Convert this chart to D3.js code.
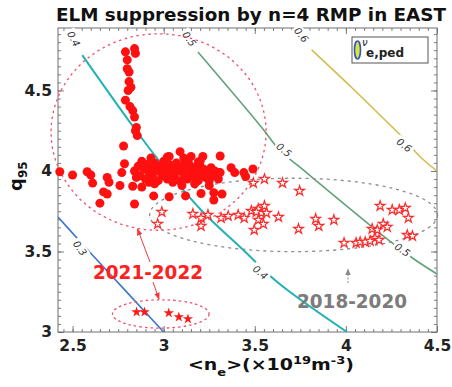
<!DOCTYPE html>
<html>
<head>
<meta charset="utf-8">
<script src="https://cdn.jsdelivr.net/npm/d3@7"></script>
<style>
  body { margin: 0; background: #fff; }
  svg { display: block; font-family: "DejaVu Sans", sans-serif; }
</style>
</head>
<body>
<svg id="chart" width="452" height="387"></svg>
<script>
// ELM suppression by n=4 RMP in EAST — q95 vs line-averaged density

// suppressed shots, filled circles (ne, q95)
const circlesNe = [
  2.79, 2.84, 2.845, 2.80, 2.80, 2.81, 2.81, 2.805, 2.82, 2.79, 2.815, 2.83, 2.84, 2.85, 2.845, 2.855,
  2.43, 2.50, 2.58, 2.60, 2.61, 2.69, 2.70, 2.67, 2.69, 2.65, 2.76, 2.77, 2.78, 2.785,
  2.83, 2.88, 2.84, 2.945, 3.03, 3.12, 3.205, 3.275, 3.32, 3.275,
  3.09, 3.215, 3.31, 3.02, 3.11, 3.19, 3.49, 3.37, 3.39, 3.44, 3.45, 3.30, 2.92,
  2.84, 2.86, 2.87, 2.89, 2.90, 2.91, 2.92, 2.93, 2.94, 2.95, 2.96, 2.97, 2.98, 2.99, 3.00, 3.01,
  3.02, 3.03, 3.04, 3.05, 3.06, 3.07, 3.08, 3.09, 3.10, 3.11, 3.12, 3.13, 3.14, 3.15, 3.16, 3.17,
  3.18, 3.19, 3.20, 3.21, 3.22, 3.23, 3.24, 3.25, 3.26, 3.27, 3.28, 3.30, 3.31,
  2.88, 2.95, 3.05, 3.12, 3.20, 3.25, 2.85, 3.00, 3.10, 3.17, 2.93, 3.03, 3.15
];
const circlesQ = [
  4.74, 4.76, 4.73, 4.69, 4.635, 4.615, 4.555, 4.50, 4.52, 4.44, 4.40, 4.375, 4.335, 4.27, 4.25, 4.22,
  3.995, 3.975, 3.995, 3.975, 3.925, 3.96, 3.93, 3.87, 3.857, 3.80, 3.91, 3.99, 4.155, 4.045,
  3.905, 3.90, 3.795, 3.845, 3.84, 3.845, 3.86, 3.865, 3.857, 3.82,
  4.12, 4.09, 4.093, 4.087, 4.08, 4.056, 4.012, 4.02, 3.99, 3.99, 3.965, 3.99, 3.93,
  4.00, 4.03, 3.97, 4.01, 3.95, 4.04, 3.99, 4.02, 3.96, 4.05, 4.00, 3.94, 4.03, 3.98, 4.06, 4.01,
  3.95, 4.04, 3.99, 4.02, 3.96, 4.05, 4.00, 3.94, 4.03, 3.98, 4.01, 3.95, 4.04, 3.99, 4.02, 3.96,
  4.00, 3.94, 4.03, 3.98, 4.01, 3.96, 3.99, 3.94, 4.02, 3.97, 4.00, 3.95, 3.99,
  4.06, 3.92, 3.93, 4.07, 4.06, 3.91, 3.96, 3.97, 3.91, 3.92, 4.08, 4.09, 4.09
];

// 2018-2020 campaign, open stars
const starsOldNe = [
  2.99, 2.967, 3.16, 3.205, 3.205, 3.243, 3.315, 3.354, 3.409, 3.442, 3.481, 3.492, 3.519, 3.536,
  3.553, 3.553, 3.564, 3.519, 3.547, 3.497, 3.652, 3.746, 3.63, 3.74, 3.834, 3.851, 3.934,
  4.188, 4.254, 4.293, 4.326, 4.343, 4.337, 4.365, 4.144, 4.172, 4.205, 4.227, 4.16, 4.182,
  3.99, 4.056, 4.078, 4.106, 4.133, 3.508
];
const starsOldQ = [
  3.745, 3.671, 3.733, 3.708, 3.658, 3.727, 3.708, 3.72, 3.727, 3.708, 3.752, 3.925, 3.764, 3.739,
  3.783, 3.95, 3.739, 3.696, 3.671, 3.634, 3.925, 3.876, 3.714, 3.64, 3.702, 3.658, 3.696,
  3.783, 3.758, 3.758, 3.77, 3.708, 3.602, 3.596, 3.64, 3.634, 3.671, 3.652, 3.584, 3.571,
  3.553, 3.553, 3.559, 3.559, 3.565, 3.745
];

// 2021-2022 low q95 shots, filled stars
const starsNewNe = [2.851, 2.895, 3.028, 3.083, 3.133];
const starsNewQ = [3.124, 3.124, 3.118, 3.093, 3.081];

// nu_e,ped contour lines
const contourLevels = ['0.3', '0.4', '0.5', '0.6'];
const contourColors = ['#3a78c8', '#22b2b6', '#62a27a', '#d2bc50'];
const contourNe = [
  [2.42, 2.535, 2.624, 3.0],
  [2.553, 2.834, 2.984, 3.205, 3.437, 3.63, 4.006],
  [3.188, 3.536, 3.635, 3.746, 4.254, 4.381, 4.5],
  [3.812, 4.03, 4.254, 4.298, 4.409, 4.5]
];
const contourQ = [
  [3.714, 3.57, 3.46, 3.0],
  [4.72, 4.273, 4.05, 3.758, 3.509, 3.304, 3.0],
  [4.739, 4.273, 4.13, 4.025, 3.553, 3.447, 3.36],
  [4.752, 4.52, 4.273, 4.224, 4.087, 4.0]
];
// contour labels: level, ne, q, angle
const labelText = ['0.4', '0.5', '0.6', '0.3', '0.4', '0.5', '0.5', '0.6'];
const labelNe = [2.505, 3.14, 3.755, 2.54, 3.53, 3.66, 4.31, 4.32];
const labelQ = [4.82, 4.82, 4.845, 3.52, 3.37, 4.13, 3.51, 4.16];
const labelAngle = [62, 55, 50, 55, 40, 40, 35, 38];

const xTicks = [2.5, 3, 3.5, 4, 4.5];
const yTicks = [3, 3.5, 4, 4.5];

const svg = d3.select('#chart');
const margin = { left: 58, right: 15, top: 28, bottom: 55 };
const W = 452, H = 387;

const x = d3.scaleLinear().domain([2.42, 4.5]).range([margin.left, W - margin.right]);
const y = d3.scaleLinear().domain([3, 4.888]).range([H - margin.bottom, margin.top]);

const defs = svg.append('defs');
defs.append('clipPath').attr('id', 'plotClip')
  .append('rect')
  .attr('x', x(2.42)).attr('y', y(4.888))
  .attr('width', x(4.5) - x(2.42)).attr('height', y(3) - y(4.888));

function arrowMarker(id, color) {
  defs.append('marker')
    .attr('id', id)
    .attr('viewBox', '0 0 10 10')
    .attr('refX', 9).attr('refY', 5)
    .attr('markerWidth', 7).attr('markerHeight', 7)
    .attr('orient', 'auto-start-reverse')
    .append('path')
    .attr('d', 'M0,1 L10,5 L0,9 z')
    .attr('fill', color);
}
arrowMarker('arrRed', '#f03a3a');
arrowMarker('arrGray', '#8a8a8a');

// minor ticks every 0.05, major every 0.5, inward on all four sides
const xMinor = d3.range(2.45, 4.5001, 0.05);
const yMinor = d3.range(3, 4.88, 0.05);
const frameColor = '#6f6f6f';

function tickAxis(axis, tr) {
  const g = svg.append('g').attr('transform', tr).call(axis);
  g.select('.domain').remove();
  g.selectAll('line').attr('stroke', frameColor).attr('stroke-width', 0.9);
  g.selectAll('text').remove();
  return g;
}
tickAxis(d3.axisBottom(x).tickValues(xMinor).tickSize(-3), `translate(0,${y(3)})`);
tickAxis(d3.axisBottom(x).tickValues(xTicks).tickSize(-6), `translate(0,${y(3)})`);
tickAxis(d3.axisTop(x).tickValues(xMinor).tickSize(-3), `translate(0,${y(4.888)})`);
tickAxis(d3.axisTop(x).tickValues(xTicks).tickSize(-6), `translate(0,${y(4.888)})`);
tickAxis(d3.axisLeft(y).tickValues(yMinor).tickSize(-3), `translate(${x(2.42)},0)`);
tickAxis(d3.axisLeft(y).tickValues(yTicks).tickSize(-6), `translate(${x(2.42)},0)`);
tickAxis(d3.axisRight(y).tickValues(yMinor).tickSize(-3), `translate(${x(4.5)},0)`);
tickAxis(d3.axisRight(y).tickValues(yTicks).tickSize(-6), `translate(${x(4.5)},0)`);

// tick labels
const xAxisLbl = svg.append('g')
  .attr('transform', `translate(0,${y(3)})`)
  .call(d3.axisBottom(x).tickValues(xTicks).tickSize(0).tickPadding(8).tickFormat(d3.format('')));
xAxisLbl.select('.domain').remove();
xAxisLbl.selectAll('text')
  .attr('font-family', '"DejaVu Sans", sans-serif')
  .attr('font-size', 15.5).attr('font-weight', 'bold').attr('fill', '#222');

const yAxisLbl = svg.append('g')
  .attr('transform', `translate(${x(2.42)},0)`)
  .call(d3.axisLeft(y).tickValues(yTicks).tickSize(0).tickPadding(6).tickFormat(d3.format('')));
yAxisLbl.select('.domain').remove();
yAxisLbl.selectAll('text')
  .attr('font-family', '"DejaVu Sans", sans-serif')
  .attr('font-size', 15.5).attr('font-weight', 'bold').attr('fill', '#222');

// frame
svg.append('rect')
  .attr('x', x(2.42)).attr('y', y(4.888))
  .attr('width', x(4.5) - x(2.42)).attr('height', y(3) - y(4.888))
  .attr('fill', 'none').attr('stroke', frameColor).attr('stroke-width', 1);

// contour lines
const plot = svg.append('g').attr('clip-path', 'url(#plotClip)');
const line = d3.line().x(d => x(d[0])).y(d => y(d[1])).curve(d3.curveCatmullRom);

contourLevels.forEach((lvl, i) => {
  const pts = contourNe[i].map((v, j) => [v, contourQ[i][j]]);
  plot.append('path')
    .datum(pts)
    .attr('d', line)
    .attr('fill', 'none')
    .attr('stroke', contourColors[i])
    .attr('stroke-width', i === 1 ? 2 : 1.6);
});

// white gaps behind contour labels, then label text
labelText.forEach((t, i) => {
  const g = svg.append('g')
    .attr('transform', `translate(${x(labelNe[i])},${y(labelQ[i])}) rotate(${labelAngle[i]})`);
  g.append('rect').attr('x', -10).attr('y', -6).attr('width', 20).attr('height', 12).attr('fill', '#fff');
  g.append('text')
    .attr('text-anchor', 'middle').attr('dy', '0.35em')
    .attr('font-family', '"DejaVu Sans", sans-serif')
    .attr('font-size', 10).attr('font-style', 'italic').attr('fill', '#333')
    .text(t);
});

// dashed ellipses
function dashedEllipse(cx, cy, rxData, ryData, color, dash) {
  svg.append('ellipse')
    .attr('cx', x(cx)).attr('cy', y(cy))
    .attr('rx', x(cx + rxData) - x(cx))
    .attr('ry', y(cy) - y(cy + ryData))
    .attr('fill', 'none')
    .attr('stroke', color)
    .attr('stroke-width', 1.3)
    .attr('stroke-dasharray', dash);
}
dashedEllipse(2.972, 4.242, 0.59, 0.61, '#f0506a', '2.5,3.5');
dashedEllipse(3.713, 3.727, 0.79, 0.228, '#8c8c8c', '3,4');
dashedEllipse(2.984, 3.112, 0.265, 0.088, '#f0506a', '2.5,3');

// filled circles
const circleData = circlesNe.map((v, i) => [v, circlesQ[i]]);
svg.append('g').selectAll('circle')
  .data(circleData)
  .join('circle')
  .attr('cx', d => x(d[0]))
  .attr('cy', d => y(d[1]))
  .attr('r', 4.5)
  .attr('fill', '#ff1010');

// open stars
const star = d3.symbol().type(d3.symbolStar);
const oldData = starsOldNe.map((v, i) => [v, starsOldQ[i]]);
svg.append('g').selectAll('path')
  .data(oldData)
  .join('path')
  .attr('transform', d => `translate(${x(d[0])},${y(d[1])})`)
  .attr('d', star.size(30)())
  .attr('fill', '#fff')
  .attr('stroke', '#ff2a2a')
  .attr('stroke-width', 1.2);

// filled stars
const newData = starsNewNe.map((v, i) => [v, starsNewQ[i]]);
svg.append('g').selectAll('path')
  .data(newData)
  .join('path')
  .attr('transform', d => `translate(${x(d[0])},${y(d[1])})`)
  .attr('d', star.size(34)())
  .attr('fill', '#ff1a1a');

// annotations
svg.append('line')
  .attr('x1', 150).attr('y1', 262).attr('x2', 137.5).attr('y2', 229)
  .attr('stroke', '#f03a3a').attr('stroke-width', 1).attr('marker-end', 'url(#arrRed)');
svg.append('line')
  .attr('x1', 153).attr('y1', 282).attr('x2', 159).attr('y2', 299)
  .attr('stroke', '#f03a3a').attr('stroke-width', 1).attr('marker-end', 'url(#arrRed)');
svg.append('line')
  .attr('x1', 348).attr('y1', 283).attr('x2', 348).attr('y2', 269)
  .attr('stroke', '#8a8a8a').attr('stroke-width', 1).attr('stroke-dasharray', '2,1.5')
  .attr('marker-end', 'url(#arrGray)');

svg.append('text')
  .attr('x', 148).attr('y', 278.5)
  .attr('text-anchor', 'middle')
  .attr('font-size', 19).attr('font-weight', 'bold').attr('fill', '#ff2020')
  .attr('textLength', 110).attr('lengthAdjust', 'spacingAndGlyphs')
  .text('2021-2022');
svg.append('text')
  .attr('x', 352).attr('y', 307.5)
  .attr('text-anchor', 'middle')
  .attr('font-size', 19).attr('font-weight', 'bold').attr('fill', '#7c7c7c')
  .attr('textLength', 110).attr('lengthAdjust', 'spacingAndGlyphs')
  .text('2018-2020');

// legend
const leg = svg.append('g');
leg.append('rect')
  .attr('x', 352).attr('y', 37).attr('width', 76).attr('height', 26)
  .attr('fill', '#fff').attr('stroke', '#555').attr('stroke-width', 1);
leg.append('ellipse')
  .attr('cx', 357.5).attr('cy', 50).attr('rx', 3).attr('ry', 9)
  .attr('fill', '#d6e83a').attr('stroke', '#3852c0').attr('stroke-width', 1.6);
const legText = leg.append('text').attr('x', 362).attr('y', 46).attr('fill', '#222');
legText.append('tspan').attr('font-size', 10).attr('font-style', 'italic').text('ν');
legText.append('tspan').attr('x', 366).attr('y', 56.5)
  .attr('font-size', 12).attr('font-weight', 'bold').text('e,ped');

// title
svg.append('text')
  .attr('x', 251).attr('y', 21)
  .attr('text-anchor', 'middle')
  .attr('font-size', 17.5).attr('font-weight', 'bold').attr('fill', '#111')
  .attr('textLength', 390).attr('lengthAdjust', 'spacingAndGlyphs')
  .text('ELM suppression by n=4 RMP in EAST');

// x label
const xl = svg.append('text')
  .attr('x', 188).attr('y', 370)
  .attr('font-size', 16).attr('font-weight', 'bold').attr('fill', '#111')
  .attr('textLength', 166).attr('lengthAdjust', 'spacingAndGlyphs');
xl.append('tspan').text('<n');
xl.append('tspan').attr('font-size', 11).attr('dy', 6).text('e');
xl.append('tspan').attr('dy', -6).text('>(×10');
xl.append('tspan').attr('font-size', 11).attr('dy', -6).text('19');
xl.append('tspan').attr('dy', 6).text('m');
xl.append('tspan').attr('font-size', 11).attr('dy', -6).text('-3');
xl.append('tspan').attr('dy', 6).text(')');

// y label
const yl = svg.append('text')
  .attr('transform', 'translate(22,191) rotate(-90)')
  .attr('font-size', 18).attr('font-weight', 'bold').attr('fill', '#111');
yl.append('tspan').text('q');
yl.append('tspan').attr('font-size', 12).attr('dy', 5).text('95');
</script>
</body>
</html>
